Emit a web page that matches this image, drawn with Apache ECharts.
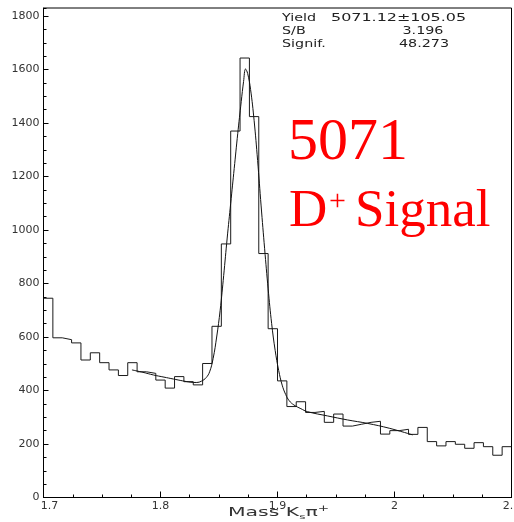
<!DOCTYPE html>
<html>
<head>
<meta charset="utf-8">
<script src="https://cdn.jsdelivr.net/npm/echarts@6/dist/echarts.min.js"></script>
<style>
html, body { margin: 0; padding: 0; background: #fff; }
#chart { width: 514px; height: 522px; }
</style>
</head>
<body>
<div id="chart"></div>
<script>
// histogram: 50 bins, 8 MeV wide, from 1.7 to 2.1
const binLow = 1.7;
const binWidth = 0.008;
const binCounts = [
    745, 597, 590, 578, 514, 541, 504, 477, 456, 504,
    470, 464, 439, 409, 452, 433, 421, 501, 640, 948,
    1370, 1643, 1424, 912, 631, 436, 340, 358, 318, 322,
    281, 312, 267, 274, 281, 285, 237, 250, 255, 236,
    262, 209, 193, 209, 199, 184, 205, 190, 158, 190
];

// fit curve
const fitMass = [
    1.7756, 1.785, 1.794, 1.803, 1.811, 1.819, 1.826, 1.831, 1.835, 1.839,
    1.842, 1.845, 1.848, 1.851, 1.854, 1.857, 1.860, 1.863, 1.866, 1.869,
    1.871, 1.8727, 1.8745, 1.877, 1.880, 1.883, 1.886, 1.889, 1.892, 1.895,
    1.898, 1.901, 1.904, 1.907, 1.910, 1.914, 1.920, 1.9255, 1.9427, 1.9598,
    1.977, 1.9955, 2.0155
];
const fitYield = [
    477, 468, 458, 450, 443, 436, 431, 430, 435, 448,
    470, 520, 600, 700, 830, 970, 1100, 1230, 1360, 1480,
    1555, 1602, 1585, 1525, 1410, 1260, 1090, 930, 780, 650,
    550, 475, 420, 385, 362, 346, 332, 321, 305, 290,
    277, 259, 234
];

const statNames = ['Yield', 'S/B', 'Signif.'];
const statValues = ['5071.12\u00b1105.05', '3.196', '48.273'];

const histData = binCounts.map((c, i) => [+(binLow + i * binWidth).toFixed(3), c]);
histData.push([+(binLow + binCounts.length * binWidth).toFixed(3), binCounts[binCounts.length - 1]]);
const fitData = fitMass.map((m, i) => [m, fitYield[i]]);

const chart = echarts.init(document.getElementById('chart'));

const statFont = 'DejaVu Sans';
const statY = [18, 31, 44];
const statX = [331, 402.5, 399];
const graphics = [];
statNames.forEach((name, i) => {
    graphics.push({
        type: 'text', x: 282, y: statY[i], scaleX: 1.3,
        style: {text: name, fontFamily: statFont, fontSize: 11, fill: '#222', align: 'left', verticalAlign: 'middle'}
    });
    graphics.push({
        type: 'text', x: statX[i], y: statY[i], scaleX: i === 0 ? 1.45 : 1.3,
        style: {text: statValues[i], fontFamily: statFont, fontSize: 11, fill: '#222', align: 'left', verticalAlign: 'middle'}
    });
});

// big red labels
const red = '#ff0000';
graphics.push(
    {type: 'text', x: 288, y: 143, style: {text: '5071', fontFamily: 'Liberation Serif', fontSize: 60, fill: red, verticalAlign: 'middle'}},
    {type: 'text', x: 289, y: 212, style: {text: 'D', fontFamily: 'Liberation Serif', fontSize: 53, fill: red, verticalAlign: 'middle'}},
    {type: 'text', x: 329, y: 202, style: {text: '+', fontFamily: 'Liberation Serif', fontSize: 30, fill: red, verticalAlign: 'middle'}},
    {type: 'text', x: 355, y: 212, style: {text: 'Signal', fontFamily: 'Liberation Serif', fontSize: 53, fill: red, verticalAlign: 'middle'}}
);

// axis title: Mass K_s pi^+
graphics.push({
    type: 'text', x: 228, y: 513, scaleX: 1.7,
    style: {
        text: '{a|Mass K}{s|s}{a|\u03c0}{p|+}',
        fill: '#333',
        verticalAlign: 'middle',
        rich: {
            a: {fontFamily: statFont, fontSize: 12, fill: '#333', lineHeight: 16},
            s: {fontFamily: statFont, fontSize: 7, fill: '#333', verticalAlign: 'bottom', lineHeight: 16},
            p: {fontFamily: statFont, fontSize: 8, fill: '#333', verticalAlign: 'top', lineHeight: 16}
        }
    }
});

const option = {
    animation: false,
    backgroundColor: '#fff',
    grid: {
        left: 43.5, right: 2.5, top: 8, bottom: 24.5, outerBoundsMode: 'none',
        show: true, borderColor: '#000', borderWidth: 1, backgroundColor: 'transparent'
    },
    xAxis: {
        type: 'value', min: 1.7, max: 2.1, interval: 0.1,
        axisLine: {show: true, onZero: false, lineStyle: {color: '#000', width: 1}},
        axisTick: {show: true, inside: true, length: 6, lineStyle: {color: '#000'}},
        minorTick: {show: true, splitNumber: 4, length: 3, lineStyle: {color: '#000'}},
        splitLine: {show: false},
        axisLabel: {
            margin: 3, fontSize: 11, fontFamily: statFont, color: '#333',
            showMaxLabel: true, alignMaxLabel: 'center',
            formatter: function (v) {
                const s = String(Math.round(v * 10) / 10);
                return v < 1.75 ? '{first|' + s + '}' : s;
            },
            rich: {first: {fontSize: 11, fontFamily: statFont, color: '#333', padding: [0, 0, 0, 12]}}
        }
    },
    yAxis: [
        {
            type: 'value', min: 0, max: 1830, interval: 200, position: 'left',
            axisLine: {show: true, lineStyle: {color: '#000', width: 1}},
            axisTick: {show: true, inside: true, length: 5, lineStyle: {color: '#000'}},
            splitLine: {show: false},
            axisLabel: {
                margin: 4, fontSize: 11, fontFamily: statFont, color: '#333', showMaxLabel: false,
                formatter: function (v) { return String(v); }
            }
        },
        {
            // minor ticks every 50
            type: 'value', min: 0, max: 1830, interval: 50, position: 'left', offset: 0,
            axisLine: {show: false},
            axisTick: {show: true, inside: true, length: 3, lineStyle: {color: '#000'}},
            splitLine: {show: false},
            axisLabel: {show: false}
        }
    ],
    series: [
        {
            name: 'data', type: 'line', step: 'end', data: histData,
            symbol: 'none', lineStyle: {color: '#1a1a1a', width: 1}, z: 3
        },
        {
            name: 'fit', type: 'line', data: fitData, smooth: 0.4,
            symbol: 'none', lineStyle: {color: '#111', width: 1}, z: 4
        }
    ],
    graphic: graphics
};

chart.setOption(option);
</script>
</body>
</html>
